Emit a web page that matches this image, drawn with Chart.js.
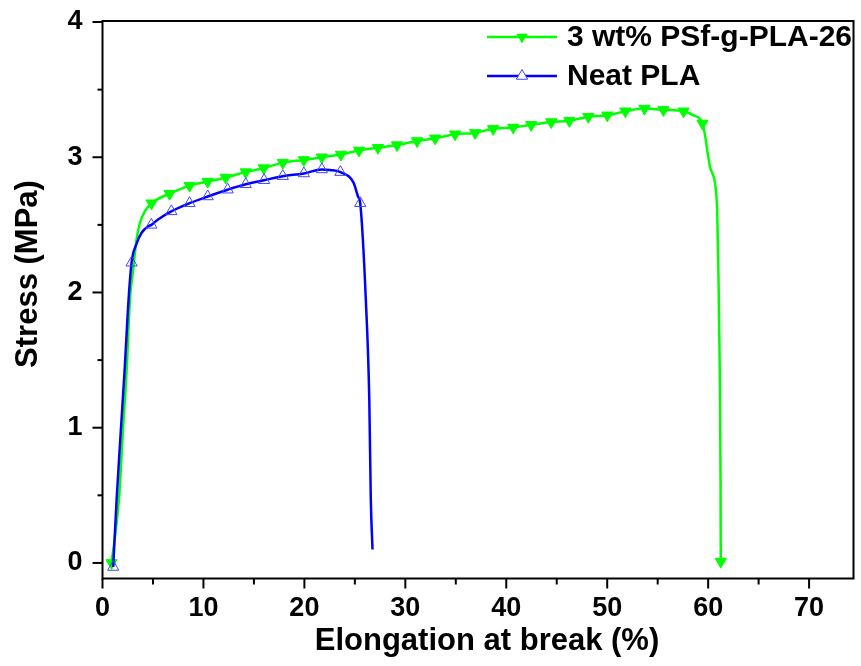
<!DOCTYPE html>
<html>
<head>
<meta charset="utf-8">
<script src="https://cdn.jsdelivr.net/npm/chart.js@4.4.1/dist/chart.umd.min.js"></script>
<style>
  html, body { margin: 0; padding: 0; background: #fff; }
  #wrap { width: 861px; height: 666px; }
</style>
</head>
<body>
<div id="wrap"><canvas id="chart"></canvas></div>
<script>
// series names as in the legend
const seriesNames = ['3 wt% PSf-g-PLA-26', 'Neat PLA'];

// 3 wt% PSf-g-PLA-26 : marker points (on the curve)
const psfMarkX = [0.90, 4.86, 6.65, 8.63, 10.42, 12.21, 14.19, 15.98, 17.86, 19.95, 21.73, 23.62, 25.41, 27.29, 29.18,
                  31.16, 32.95, 34.93, 36.92, 38.70, 40.69, 42.47, 44.46, 46.25, 48.13, 50.02, 51.80, 53.69, 55.57, 57.56, 59.44, 61.25];
const psfMarkY = [0.0, 2.66, 2.73, 2.79, 2.82, 2.85, 2.89, 2.92, 2.96, 2.98, 3.00, 3.02, 3.05, 3.07, 3.09,
                  3.12, 3.14, 3.17, 3.18, 3.21, 3.22, 3.24, 3.26, 3.27, 3.30, 3.31, 3.34, 3.36, 3.35, 3.34, 3.25, 0.01];
// extra curve points between the markers (elastic rise and break)
const psfLineX = [1.63, 2.01, 2.41, 2.71, 3.04, 3.37, 3.69, 4.19, 58.55, 60.18, 60.73, 60.90, 61.03, 61.16, 61.23];
const psfLineY = [0.47, 0.96, 1.45, 1.94, 2.17, 2.39, 2.51, 2.60, 3.31, 2.93, 2.78, 2.59, 2.09, 1.35, 0.61];

// Neat PLA
const plaMarkX = [1.06, 2.88, 4.84, 6.82, 8.62, 10.42, 12.40, 14.19, 16.01, 17.86, 19.95, 21.73, 23.57, 25.53];
const plaMarkY = [-0.03, 2.22, 2.50, 2.60, 2.66, 2.71, 2.76, 2.80, 2.83, 2.86, 2.88, 2.91, 2.89, 2.66];
const plaLineX = [1.40, 1.80, 2.21, 2.54, 3.37, 3.86, 4.52, 5.50, 22.53, 24.88, 25.31, 26.09, 26.43, 26.58, 26.75];
const plaLineY = [0.47, 0.96, 1.45, 1.90, 2.36, 2.44, 2.49, 2.54, 2.905, 2.81, 2.71, 1.94, 1.21, 0.47, 0.10];

// axes
const xMin = 0, xMax = 74.4, xStep = 5;
const yMin = -0.115, yMax = 4, yStep = 0.5;
const xTickLabels = [0, 10, 20, 30, 40, 50, 60, 70];
const yTickLabels = [0, 1, 2, 3, 4];
const xTitle = 'Elongation at break (%)';
const yTitle = 'Stress (MPa)';

const GREEN = '#00ff00';
const BLUE = '#0000ff';
const BLUE_MARK = '#4444ff';

function pts(xs, ys) {
  return xs.map((x, i) => ({ x: x, y: ys[i] }));
}
function curve(mx, my, lx, ly) {
  return pts(mx, my).concat(pts(lx, ly)).sort((a, b) => a.x - b.x);
}

function ticksBetween(min, max, step) {
  const out = [];
  for (let v = Math.ceil(min / step) * step; v <= max + 1e-9; v += step) out.push(+v.toFixed(3));
  return out;
}

function triangle(ctx, x, y, r, down) {
  const s = down ? -1 : 1;
  ctx.beginPath();
  ctx.moveTo(x, y - s * r);
  ctx.lineTo(x + r * 0.866, y + s * r * 0.5);
  ctx.lineTo(x - r * 0.866, y + s * r * 0.5);
  ctx.closePath();
}

// no label overhang: the plot box is placed by layout padding alone
function noPad(s) {
  s.paddingLeft = 0; s.paddingRight = 0; s.paddingTop = 0; s.paddingBottom = 0;
}

const framePlugin = {
  id: 'frame',
  afterDraw(chart) {
    const ctx = chart.ctx;
    const a = chart.chartArea;
    const xs = chart.scales.x, ys = chart.scales.y;
    ctx.save();
    ctx.strokeStyle = '#000';
    ctx.lineWidth = 2;
    ctx.strokeRect(a.left, a.top - 1, a.right - a.left, a.bottom - a.top + 1);

    // ticks, outward
    ctx.lineWidth = 2;
    ticksBetween(xMin, xMax, xStep).forEach(v => {
      const px = xs.getPixelForValue(v);
      const len = (v % 10 === 0) ? 10 : 6;
      ctx.beginPath();
      ctx.moveTo(px, a.bottom);
      ctx.lineTo(px, a.bottom + len);
      ctx.stroke();
    });
    ticksBetween(0, yMax, yStep).forEach(v => {
      const py = ys.getPixelForValue(v);
      const len = (v % 1 === 0) ? 10 : 5;
      ctx.beginPath();
      ctx.moveTo(a.left, py);
      ctx.lineTo(a.left - len, py);
      ctx.stroke();
    });

    // axis titles
    ctx.fillStyle = '#000';
    ctx.font = 'bold 31px "Liberation Sans", Arial, sans-serif';
    ctx.textAlign = 'center';
    ctx.textBaseline = 'alphabetic';
    ctx.fillText(xTitle, 487, 650);
    ctx.save();
    ctx.translate(37, 274);
    ctx.rotate(-Math.PI / 2);
    ctx.fillText(yTitle, 0, 0);
    ctx.restore();

    // legend
    const rows = [
      { y: 37, color: GREEN, down: true, fill: true },
      { y: 76, color: BLUE, down: false, fill: false }
    ];
    ctx.font = 'bold 30px "Liberation Sans", Arial, sans-serif';
    ctx.textAlign = 'left';
    ctx.textBaseline = 'middle';
    rows.forEach((r, i) => {
      ctx.strokeStyle = r.color;
      ctx.lineWidth = 2.5;
      ctx.beginPath();
      ctx.moveTo(487, r.y);
      ctx.lineTo(557, r.y);
      ctx.stroke();
      triangle(ctx, 522, r.y, 6.5, r.down);
      if (r.fill) {
        ctx.fillStyle = r.color;
        ctx.fill();
      } else {
        ctx.fillStyle = '#fff';
        ctx.fill();
        ctx.strokeStyle = BLUE_MARK;
        ctx.lineWidth = 1;
        ctx.stroke();
      }
      ctx.fillStyle = '#000';
      ctx.fillText(seriesNames[i], 567, r.y + 1);
    });
    ctx.restore();
  }
};

new Chart(document.getElementById('chart'), {
  type: 'scatter',
  data: {
    datasets: [
      {
        label: seriesNames[1] + ' markers',
        data: pts(plaMarkX, plaMarkY),
        showLine: false,
        pointStyle: 'triangle',
        pointRadius: 6.5,
        pointBorderWidth: 1,
        pointBorderColor: BLUE_MARK,
        pointBackgroundColor: 'rgba(0,0,0,0)',
        order: 1
      },
      {
        label: seriesNames[1],
        data: curve(plaMarkX, plaMarkY, plaLineX, plaLineY),
        showLine: true,
        borderColor: BLUE,
        borderWidth: 2.5,
        pointRadius: 0,
        cubicInterpolationMode: 'monotone',
        order: 2
      },
      {
        label: seriesNames[0] + ' markers',
        data: pts(psfMarkX, psfMarkY),
        showLine: false,
        pointStyle: 'triangle',
        rotation: 180,
        pointRadius: 6.5,
        pointBorderWidth: 1,
        pointBorderColor: GREEN,
        pointBackgroundColor: GREEN,
        order: 3
      },
      {
        label: seriesNames[0],
        data: curve(psfMarkX, psfMarkY, psfLineX, psfLineY),
        showLine: true,
        borderColor: GREEN,
        borderWidth: 2.5,
        pointRadius: 0,
        cubicInterpolationMode: 'monotone',
        order: 4
      }
    ]
  },
  options: {
    responsive: true,
    maintainAspectRatio: false,
    animation: false,
    layout: { padding: { top: 22, right: 3, left: 0, bottom: 0 } },
    plugins: {
      legend: { display: false },
      tooltip: { enabled: false }
    },
    scales: {
      x: {
        type: 'linear',
        min: xMin,
        max: xMax,
        grid: { display: false, drawTicks: false },
        border: { display: false },
        afterFit(s) { s.height = 87.5; noPad(s); },
        afterBuildTicks(s) { s.ticks = ticksBetween(xMin, xMax, xStep).map(v => ({ value: v })); },
        ticks: {
          autoSkip: false,
          maxRotation: 0,
          padding: 14,
          color: '#000',
          font: { family: '"Liberation Sans", Arial, sans-serif', size: 27, weight: 'bold' },
          callback: v => xTickLabels.includes(v) ? String(v) : ''
        }
      },
      y: {
        type: 'linear',
        min: yMin,
        max: yMax,
        grid: { display: false, drawTicks: false },
        border: { display: false },
        afterFit(s) { s.width = 102.5; noPad(s); },
        afterBuildTicks(s) { s.ticks = ticksBetween(0, yMax, yStep).map(v => ({ value: v })); },
        ticks: {
          autoSkip: false,
          padding: 20,
          color: '#000',
          font: { family: '"Liberation Sans", Arial, sans-serif', size: 27, weight: 'bold' },
          callback: v => yTickLabels.includes(v) ? String(v) : ''
        }
      }
    }
  },
  plugins: [framePlugin]
});
</script>
</body>
</html>
